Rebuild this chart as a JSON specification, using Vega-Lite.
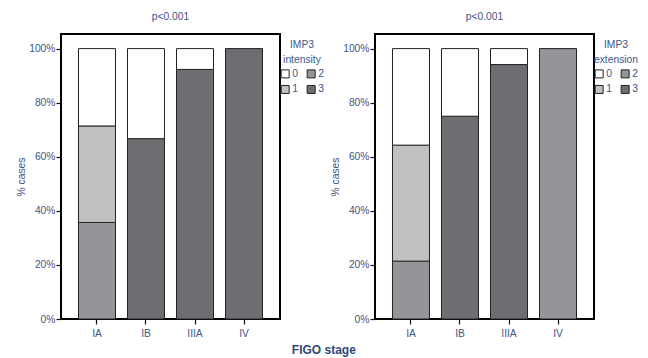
{
  "$schema": "https://vega.github.io/schema/vega-lite/v6.json",
  "padding": {"left": 15, "top": 10, "right": 0, "bottom": 0},
  "background": "white",
  "data": {"values": [
    {"panel": "intensity", "stage": "IA", "level": "2", "pct": 35.7},
    {"panel": "intensity", "stage": "IA", "level": "1", "pct": 35.7},
    {"panel": "intensity", "stage": "IA", "level": "0", "pct": 28.6},
    {"panel": "intensity", "stage": "IB", "level": "3", "pct": 66.7},
    {"panel": "intensity", "stage": "IB", "level": "0", "pct": 33.3},
    {"panel": "intensity", "stage": "IIIA", "level": "3", "pct": 92.3},
    {"panel": "intensity", "stage": "IIIA", "level": "0", "pct": 7.7},
    {"panel": "intensity", "stage": "IV", "level": "3", "pct": 100},
    {"panel": "extension", "stage": "IA", "level": "2", "pct": 21.4},
    {"panel": "extension", "stage": "IA", "level": "1", "pct": 42.9},
    {"panel": "extension", "stage": "IA", "level": "0", "pct": 35.7},
    {"panel": "extension", "stage": "IB", "level": "3", "pct": 75},
    {"panel": "extension", "stage": "IB", "level": "0", "pct": 25},
    {"panel": "extension", "stage": "IIIA", "level": "3", "pct": 94.1},
    {"panel": "extension", "stage": "IIIA", "level": "0", "pct": 5.9},
    {"panel": "extension", "stage": "IV", "level": "2", "pct": 100}
  ]},
  "title": {"text": "FIGO stage", "orient": "bottom", "anchor": "middle", "fontSize": 12, "fontWeight": "bold", "color": "#2f4a7c", "font": "Liberation Sans", "offset": 6, "dx": -7},
  "spacing": -3,
  "hconcat": [
    {
      "width": 219, "height": 285,
      "view": {"stroke": "#000000", "strokeWidth": 2},
      "title": {"text": "p<0.001"},
      "transform": [{"filter": "datum.panel === 'intensity'"}],
      "mark": {"type": "bar", "stroke": "#222222", "strokeWidth": 1},
      "encoding": {
        "x": {"field": "stage", "type": "nominal", "sort": ["IA", "IB", "IIIA", "IV"], "scale": {"paddingInner": 0.245, "paddingOuter": 0.357}, "axis": {"title": null, "labelAngle": 0}},
        "y": {"field": "pct", "type": "quantitative", "stack": "zero", "scale": {"domain": [0, 105.4], "nice": false}, "axis": {"title": "% cases", "values": [0, 20, 40, 60, 80, 100], "labelExpr": "datum.value + '%'"}},
        "color": {"field": "level", "type": "nominal", "scale": {"domain": ["0", "1", "2", "3"], "range": ["#ffffff", "#bfc0c2", "#939598", "#6d6e71"]}, "legend": {"title": ["IMP3", "intensity"]}},
        "order": {"field": "level", "sort": "descending"}
      }
    },
    {
      "width": 219, "height": 285,
      "view": {"stroke": "#000000", "strokeWidth": 2},
      "title": {"text": "p<0.001"},
      "transform": [{"filter": "datum.panel === 'extension'"}],
      "mark": {"type": "bar", "stroke": "#222222", "strokeWidth": 1},
      "encoding": {
        "x": {"field": "stage", "type": "nominal", "sort": ["IA", "IB", "IIIA", "IV"], "scale": {"paddingInner": 0.245, "paddingOuter": 0.357}, "axis": {"title": null, "labelAngle": 0}},
        "y": {"field": "pct", "type": "quantitative", "stack": "zero", "scale": {"domain": [0, 105.4], "nice": false}, "axis": {"title": "% cases", "values": [0, 20, 40, 60, 80, 100], "labelExpr": "datum.value + '%'"}},
        "color": {"field": "level", "type": "nominal", "scale": {"domain": ["0", "1", "2", "3"], "range": ["#ffffff", "#bfc0c2", "#939598", "#6d6e71"]}, "legend": {"title": ["IMP3", "extension"]}},
        "order": {"field": "level", "sort": "descending"}
      }
    }
  ],
  "resolve": {"scale": {"color": "independent", "x": "independent", "y": "independent"}, "legend": {"color": "independent"}},
  "config": {
    "font": "Liberation Sans",
    "title": {"fontSize": 10.3, "fontWeight": "normal", "color": "#3d5688", "offset": 12, "anchor": "middle"},
    "axis": {"domain": false, "grid": false, "ticks": true, "tickColor": "#111111", "tickSize": 5, "tickWidth": 1.2, "labelColor": "#3d5688", "labelFontSize": 10.3, "labelPadding": 1, "titleColor": "#3d5688", "titleFontSize": 10.3, "titleFontWeight": "normal", "titlePadding": 2},
    "axisX": {"labelPadding": 4},
    "legend": {"orient": "right", "offset": -6, "padding": 6, "columns": 2, "symbolType": "square", "symbolSize": 64, "symbolStrokeColor": "#222222", "symbolStrokeWidth": 1, "symbolOpacity": 1, "labelFontSize": 10.3, "labelColor": "#3d5688", "labelOffset": 2, "columnPadding": 6, "rowPadding": 3, "titleFontSize": 10.3, "titleFontWeight": "normal", "titleColor": "#3d5688", "titleAnchor": "middle", "titlePadding": 3, "titleLineHeight": 15}
  }
}
